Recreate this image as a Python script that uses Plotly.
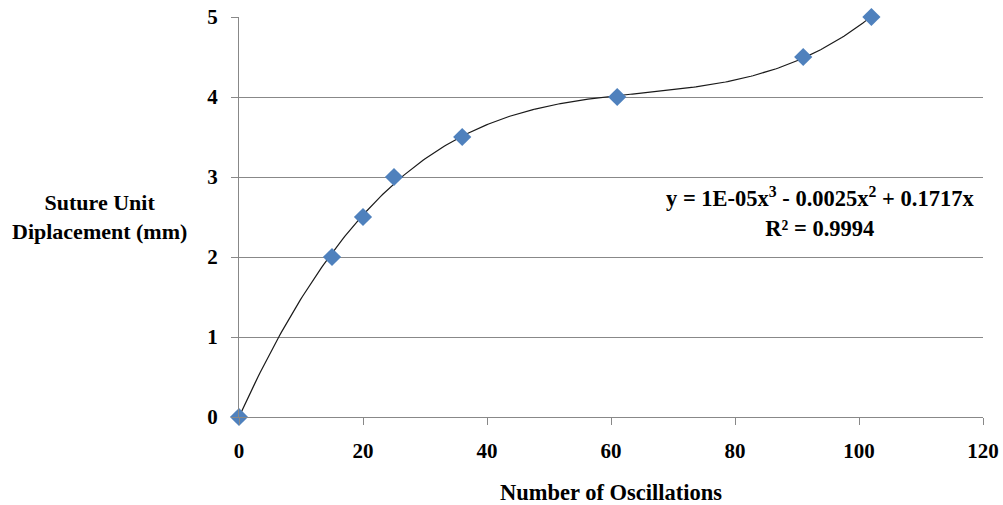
import numpy as np
import plotly.graph_objects as go

oscillations = [0, 15, 20, 25, 36, 61, 91, 102]
displacement = [0, 2, 2.5, 3, 3.5, 4, 4.5, 5]
x_ticks = [0, 20, 40, 60, 80, 100, 120]
y_ticks = [0, 1, 2, 3, 4, 5]
equation_text = "y = 1E-05x<sup>3</sup> - 0.0025x<sup>2</sup> + 0.1717x<br>R² = 0.9994"

# Polynomial (order 3, zero intercept) trendline fitted to the data
xa = np.array(oscillations, dtype=float)
ya = np.array(displacement, dtype=float)
A = np.vstack([xa**3, xa**2, xa]).T
coef, *_ = np.linalg.lstsq(A, ya, rcond=None)
xf = np.linspace(0, max(oscillations), 300)
yf = coef[0]*xf**3 + coef[1]*xf**2 + coef[2]*xf

font_family = "Liberation Serif"
fs = 21

fig = go.Figure()
fig.add_trace(go.Scatter(x=xf, y=yf, mode="lines",
                         line=dict(color="#1a1a1a", width=1.2),
                         hoverinfo="skip", showlegend=False))
fig.add_trace(go.Scatter(x=oscillations, y=displacement, mode="markers",
                         marker=dict(symbol="diamond", size=14, color="#4F81BD",
                                     line=dict(width=0)),
                         cliponaxis=False, showlegend=False))

fig.update_layout(
    width=1003, height=505,
    margin=dict(l=239, r=20, t=17, b=88, autoexpand=False),
    paper_bgcolor="white", plot_bgcolor="white",
    font=dict(family=font_family, size=fs, color="black"),
    xaxis=dict(range=[0, 120], tickvals=x_ticks, showgrid=False,
               showline=True, linecolor="#888888", linewidth=1,
               ticks="outside", ticklen=7, tickcolor="#888888",
               ticklabelstandoff=8,
               tickfont=dict(family=font_family, size=fs, color="black", weight="bold"),
               zeroline=False, fixedrange=True, automargin=False),
    yaxis=dict(range=[0, 5], tickvals=y_ticks, showgrid=True,
               gridcolor="#888888", gridwidth=1,
               showline=True, linecolor="#888888", linewidth=1,
               ticks="outside", ticklen=7, tickcolor="#888888",
               ticklabelstandoff=9,
               tickfont=dict(family=font_family, size=fs, color="black", weight="bold"),
               zeroline=False, fixedrange=True, automargin=False),
)

fig.add_annotation(text="<b>Suture Unit<br>Diplacement (mm)</b>",
                   xref="paper", yref="paper", x=-0.187, y=0.5,
                   xanchor="center", yanchor="middle", showarrow=False,
                   align="center", font=dict(family=font_family, size=22, color="black"))
fig.add_annotation(text="<b>Number of Oscillations</b>",
                   xref="paper", yref="paper", x=0.5, y=-0.188,
                   xanchor="center", yanchor="middle", showarrow=False,
                   font=dict(family=font_family, size=22.5, color="black"))
fig.add_annotation(text="<b>" + equation_text + "</b>",
                   xref="x", yref="y", x=93.7, y=2.56,
                   xanchor="center", yanchor="middle", showarrow=False,
                   align="center", font=dict(family=font_family, size=22.5, color="black"))

fig.write_html("out.html", config={"displayModeBar": False},
               post_script="document.body.style.margin='0';")
